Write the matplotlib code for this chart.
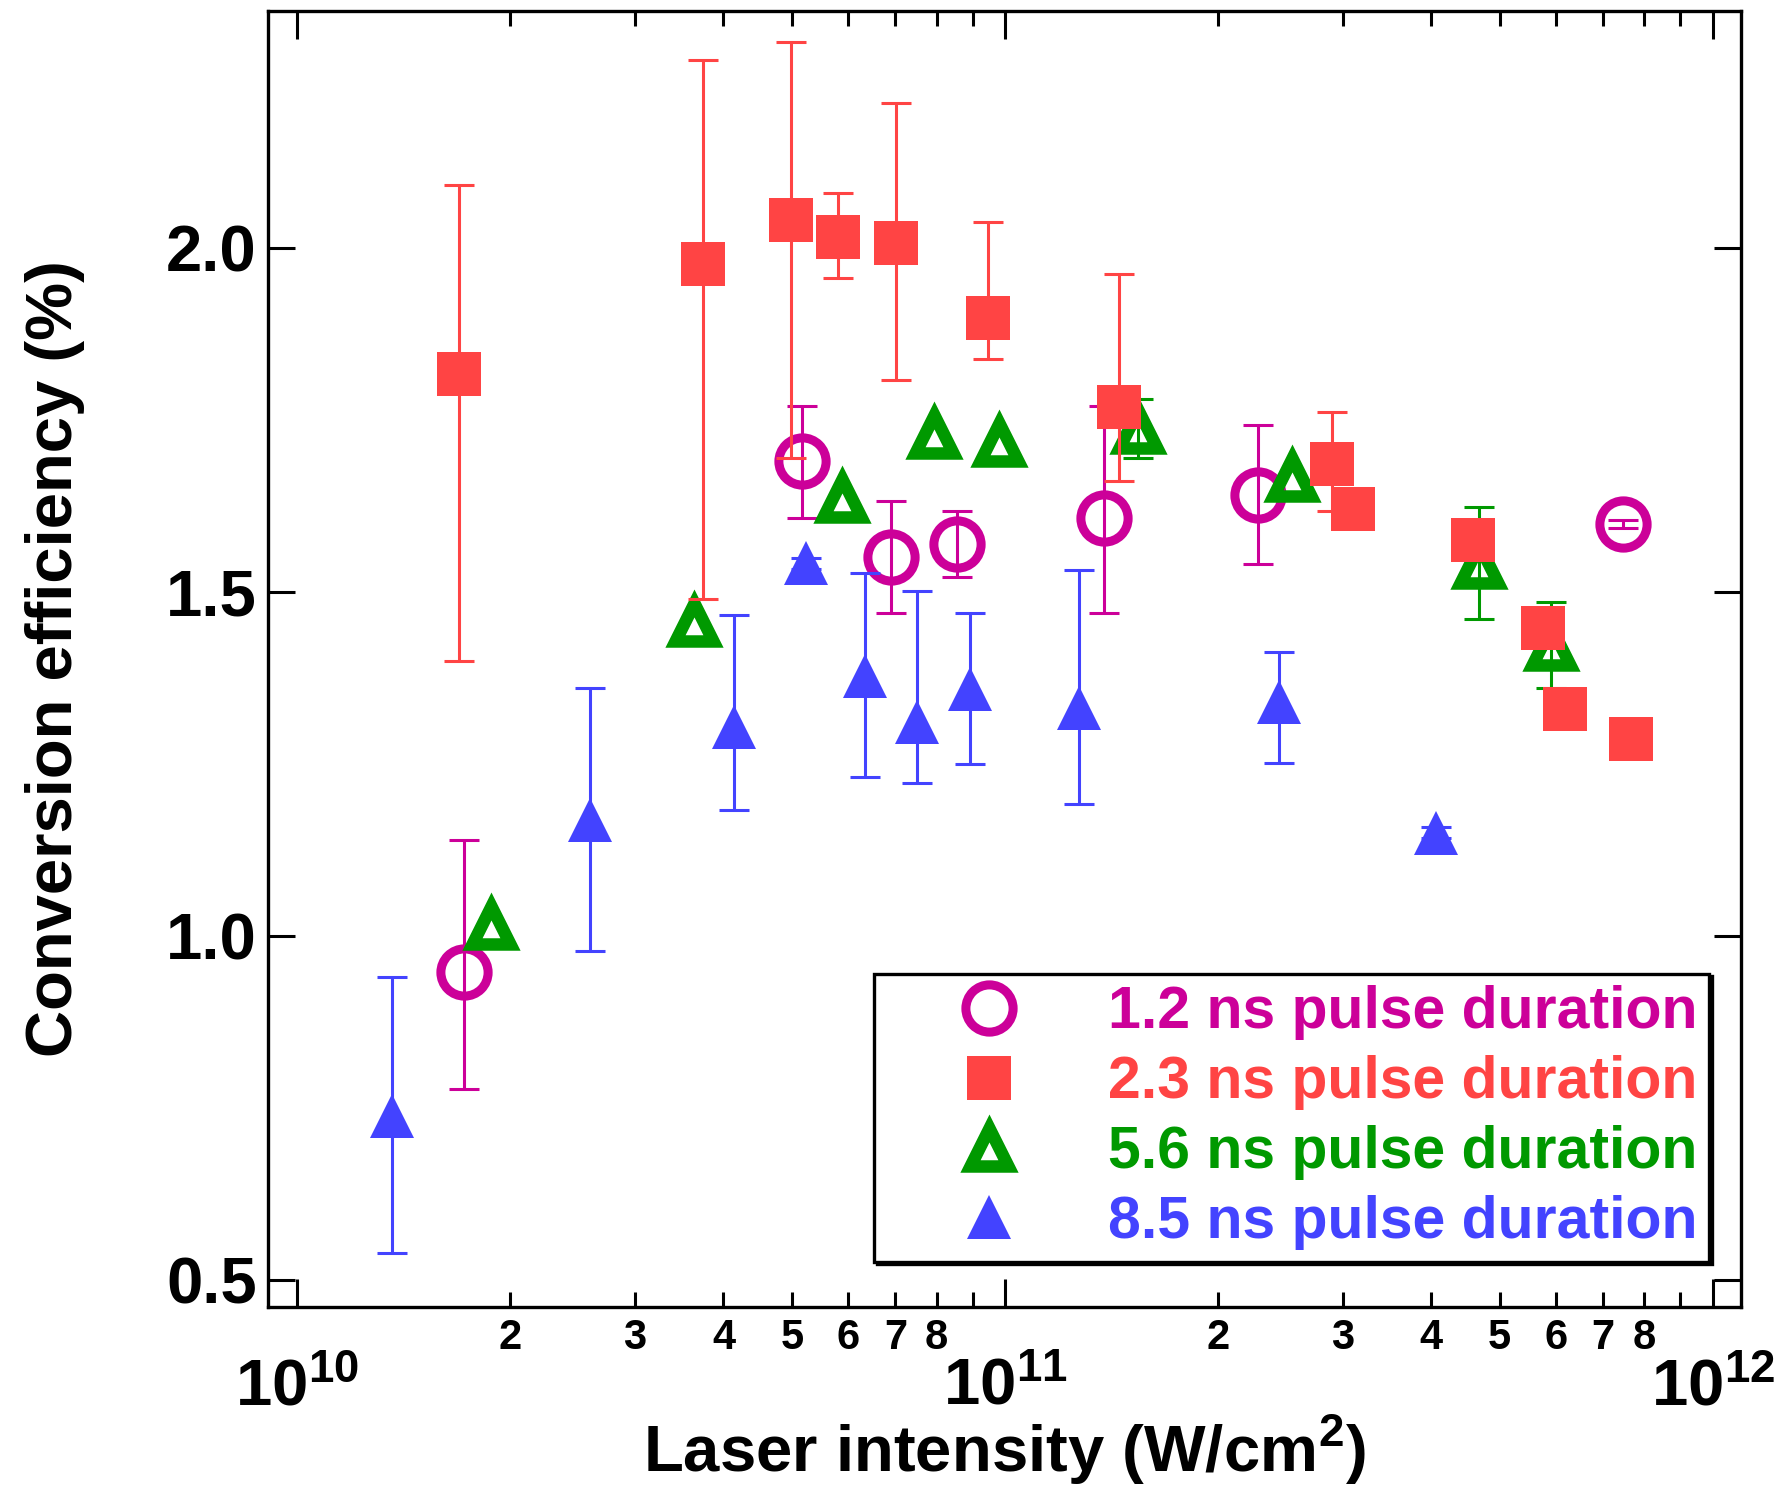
import numpy as np
import matplotlib
matplotlib.use("Agg")
import matplotlib.pyplot as plt
from matplotlib.lines import Line2D
from matplotlib.ticker import FixedLocator, LogLocator, FuncFormatter, NullLocator

plt.rcParams['font.family'] = ['Liberation Sans', 'DejaVu Sans']
plt.rcParams['font.weight'] = 'bold'
plt.rcParams['mathtext.fontset'] = 'custom'
plt.rcParams['mathtext.rm'] = 'Liberation Sans:bold'
plt.rcParams['mathtext.bf'] = 'Liberation Sans:bold'

nan = np.nan

# 1.2 ns
x12 = [1.72e10, 5.17e10, 6.89e10, 8.54e10, 1.38e11, 2.28e11, 7.47e11]
y12 = [0.948, 1.690, 1.551, 1.570, 1.608, 1.641, 1.599]
lo12 = [0.777, 1.608, 1.469, 1.522, 1.470, 1.541, 1.593]
hi12 = [1.140, 1.770, 1.632, 1.618, 1.771, 1.742, 1.605]

# 2.3 ns
x23 = [1.69e10, 3.74e10, 4.98e10, 5.80e10, 7.01e10, 9.47e10, 1.45e11,
       2.90e11, 3.10e11, 4.59e11, 5.75e11, 6.19e11, 7.67e11]
y23 = [1.817, 1.977, 2.040, 2.016, 2.007, 1.898, 1.769,
       1.686, 1.620, 1.576, 1.448, 1.330, 1.286]
lo23 = [1.399, 1.490, 1.694, 1.957, 1.808, 1.838, 1.661,
        1.618, nan, nan, nan, nan, nan]
hi23 = [2.091, 2.273, 2.300, 2.080, 2.210, 2.038, 1.962,
        1.761, nan, nan, nan, nan, nan]

# 5.6 ns
x56 = [1.88e10, 3.63e10, 5.88e10, 7.93e10, 9.80e10, 1.54e11, 2.54e11, 4.67e11, 5.90e11]
y56 = [1.016, 1.457, 1.637, 1.729, 1.718, 1.737, 1.667, 1.541, 1.422]
lo56 = [nan, nan, nan, nan, nan, 1.695, nan, 1.460, 1.360]
hi56 = [nan, nan, nan, nan, nan, 1.780, nan, 1.623, 1.485]

# 8.5 ns
x85 = [1.36e10, 2.59e10, 4.14e10, 5.23e10, 6.34e10, 7.51e10, 8.91e10, 1.27e11, 2.44e11, 4.06e11]
y85 = [0.738, 1.168, 1.303, 1.542, 1.378, 1.311, 1.359, 1.331, 1.340, 1.150]
lo85 = [0.539, 0.978, 1.183, 1.534, 1.231, 1.222, 1.250, 1.192, 1.251, 1.142]
hi85 = [0.940, 1.360, 1.466, 1.550, 1.528, 1.502, 1.469, 1.532, 1.412, 1.158]

labels = ["1.2 ns pulse duration", "2.3 ns pulse duration",
          "5.6 ns pulse duration", "8.5 ns pulse duration"]
colors = ["#CC0099", "#FF4444", "#009900", "#4343FF"]

styles = [
    dict(marker='o', markersize=34, markerfacecolor='none', markeredgewidth=6.5),
    dict(marker='s', markersize=31, markeredgewidth=0),
    dict(marker='^', markersize=28, markerfacecolor='none', markeredgewidth=9),
    dict(marker='^', markersize=32, markeredgewidth=0),
]

fig = plt.figure(figsize=(17.9, 14.88), dpi=100)
ax = fig.add_axes([0.1497, 0.1218, 0.8227, 0.8706])

# draw order: circles, filled triangles, open triangles, squares on top
series = [(x12, y12, lo12, hi12, 0), (x85, y85, lo85, hi85, 3),
          (x56, y56, lo56, hi56, 2), (x23, y23, lo23, hi23, 1)]
for xs, ys, lo, hi, k in series:
    xs, ys, lo, hi = map(np.array, (xs, ys, lo, hi))
    yerr = np.vstack([ys - lo, hi - ys])
    ax.errorbar(xs, ys, yerr=yerr, fmt='none', ecolor=colors[k],
                elinewidth=2.2, capsize=10.5, capthick=2.2)
    st = dict(styles[k])
    st.setdefault('markerfacecolor', colors[k])
    ax.plot(xs, ys, linestyle='none', color=colors[k],
            markeredgecolor=colors[k], **st)

ax.set_xscale('log')
ax.set_xlim(9.085e9, 1.095e12)
ax.set_ylim(0.461, 2.344)

# ticks
ax.xaxis.set_major_locator(LogLocator(base=10))
ax.xaxis.set_minor_locator(LogLocator(base=10, subs=np.arange(2, 10)))
ax.xaxis.set_major_formatter(FuncFormatter(lambda v, p: r'$\mathbf{10^{%d}}$' % round(np.log10(v))))

def minor_fmt(v, p):
    m = int(round(v / 10 ** np.floor(np.log10(v) + 1e-9)))
    return str(m) if m <= 8 else ''

ax.xaxis.set_minor_formatter(FuncFormatter(minor_fmt))
ax.yaxis.set_major_locator(FixedLocator([0.5, 1.0, 1.5, 2.0]))
ax.yaxis.set_minor_locator(NullLocator())
ax.yaxis.set_major_formatter(FuncFormatter(lambda v, p: '%.1f' % v))

ax.tick_params(which='both', direction='in', top=True, right=True, width=2.2)
ax.tick_params(axis='x', which='major', length=20, pad=37, labelsize=47)
ax.tick_params(axis='x', which='minor', length=11, pad=8, labelsize=30)
ax.tick_params(axis='y', which='major', length=19.5, pad=8, labelsize=47)
for lab in ax.get_xticklabels(which='both') + ax.get_yticklabels():
    lab.set_fontweight('bold')
for s in ax.spines.values():
    s.set_linewidth(2.4)

ax.set_ylabel("Conversion efficiency (%)", fontsize=47, fontweight='bold')
ax.yaxis.set_label_coords(-0.124, 0.5)
ax.set_xlabel(r"Laser intensity (W/cm$^{\mathbf{2}}$)", fontsize=47, fontweight='bold')
ax.xaxis.set_label_coords(0.5, -0.082)

# legend
handles = [Line2D([], [], linestyle='none', color=c, markeredgecolor=c,
                  **({'markerfacecolor': c} | st)) for c, st in zip(colors, styles)]
leg = ax.legend(handles, labels, loc='lower right', bbox_to_anchor=(0.9785, 0.0349),
                prop={'size': 42.5, 'weight': 'bold'}, labelcolor=colors, numpoints=1,
                frameon=True, fancybox=False, edgecolor='black', framealpha=1,
                shadow={'color': 'black', 'alpha': 1.0},
                borderpad=0.2, handlelength=3.5, handletextpad=0.26,
                labelspacing=0.25, borderaxespad=0)
leg.get_frame().set_linewidth(2.4)

fig.savefig("out.png", dpi=100)
